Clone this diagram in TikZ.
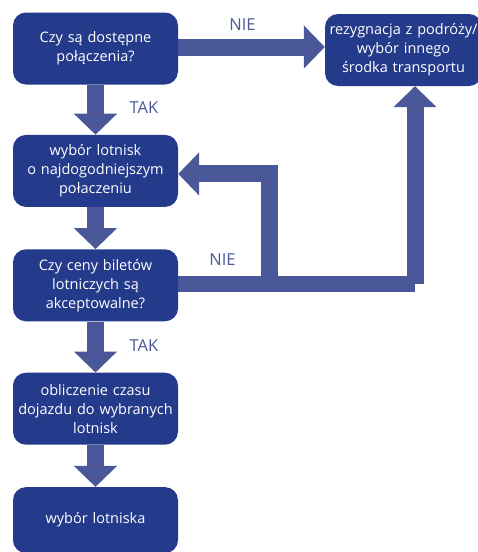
\documentclass[tikz,border=0pt]{standalone}
\usepackage{fontspec}
\setmainfont{Open Sans}
\usetikzlibrary{arrows.meta,positioning,calc}
\definecolor{boxblue}{RGB}{36,58,138}
\definecolor{arrowblue}{RGB}{74,88,153}
\tikzset{
    block/.style={rectangle, fill=boxblue, text=white, text width=165pt, align=center, rounded corners=13pt, minimum width=165pt, minimum height=72pt, inner sep=0pt, font=\fontsize{14.5}{19}\selectfont},
    line/.style={draw=arrowblue, line width=17pt, -{Triangle[width=42pt,length=21pt]}},
    bar/.style={draw=arrowblue, line width=16pt},
    answer/.style={text=arrowblue, font=\fontsize{16.5}{18}\selectfont}
}
\begin{document}
\begin{tikzpicture}[x=1pt, y=1pt, node distance=40pt]
    \useasboundingbox (0,0) rectangle (478,-552);
    % Decision chain
    \node [block] (avail) at (95.5,-48.5) {Czy są dostępne\\połączenia?};
    \node [block, below=50pt of avail] (choose) {wybór lotnisk\\o najdogodniejszym\\połaczeniu};
    \node [block, below=42pt of choose] (price) {Czy ceny biletów\\lotniczych są\\akceptowalne?};
    \node [block, below=51pt of price] (time) {obliczenie czasu\\dojazdu do wybranych\\lotnisk};
    \node [block, below=42pt of time, minimum height=66pt] (final) {wybór lotniska};
    \node [block, minimum width=157pt, text width=157pt] (quit) at (403.5,-50) {rezygnacja z podróży/\\wybór innego\\środka transportu};

    % Return paths
    \coordinate (corner) at (415,-283.5);
    \coordinate (fork) at (269.5,-283.5);
    \path [bar] (price.east |- corner) -- (corner);
    \path [line] (corner) -- (corner |- quit.south);
    \path [line] (fork) |- ($(choose.east)+(0,-3)$);

    % Flow arrows
    \path [line] (avail.east |- 0,-47) -- (quit.west |- 0,-47);
    \path [line] (avail) -- (choose);
    \path [line] (choose) -- (price);
    \path [line] (price) -- (time);
    \path [line] (time) -- (final);

    % Answers
    \node [answer] (no1) at (242.5,-25) {NIE};
    \node [answer] (no2) at (222.5,-260) {NIE};
    \node [answer] (yes1) at (144,-108) {TAK};
    \node [answer] (yes2) at (144,-346) {TAK};
\end{tikzpicture}
\end{document}
